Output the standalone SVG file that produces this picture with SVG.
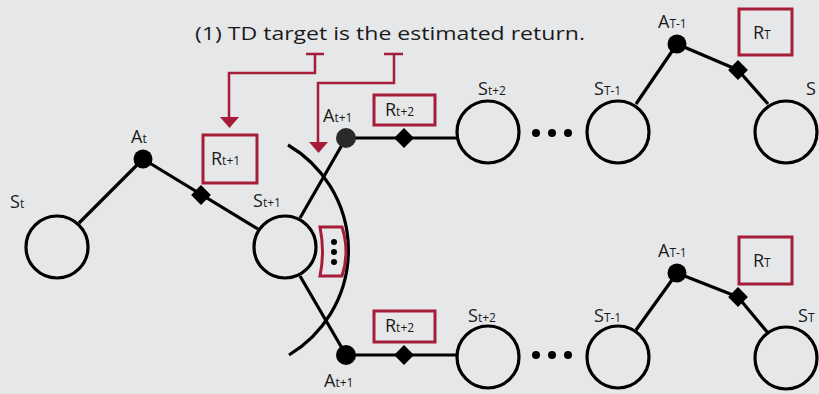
<svg xmlns="http://www.w3.org/2000/svg" width="819" height="394" viewBox="0 0 819 394">
<defs>
<style>
.bg{fill:#e6e7e9}
.st{fill:none;stroke:#000;stroke-width:3.2}
.ln{fill:none;stroke:#000;stroke-width:3.2}
.dot{fill:#000}
.red{fill:none;stroke:#a51d38;stroke-width:3}
.redl{fill:none;stroke:#a51d38;stroke-width:2.5}
.redf{fill:#a51d38}
.lbl{font-family:"Open Sans","Liberation Sans",sans-serif;font-size:18px;fill:#1a1a1a}
.sub{font-size:12px}
.ttl{font-family:"Open Sans","Liberation Sans",sans-serif;font-size:19px;fill:#1a1a1a}
</style>
</defs>
<rect class="bg" x="0" y="0" width="819" height="394"/>

<g id="title">
<text class="ttl" x="195" y="40" textLength="390" lengthAdjust="spacingAndGlyphs">(1) TD target is the estimated return.</text>
</g>

<g id="connectors">
<path class="redl" d="M306 54 H324 M315 54 V73 H229 V118"/>
<polygon class="redf" points="220,117 239,117 229.5,128"/>
<path class="redl" d="M384 54 H403 M394 54 V83 H318 V143"/>
<polygon class="redf" points="309,142 328,142 318.5,153"/>
<line class="ln" x1="79" y1="223" x2="143" y2="159"/>
<line class="ln" x1="143" y1="159" x2="258" y2="229"/>
<line class="ln" x1="300" y1="218" x2="346" y2="138"/>
<line class="ln" x1="300" y1="276" x2="346" y2="355"/>
<path class="ln" d="M288 145 A122 122 0 0 1 289 355"/>
<line class="ln" x1="346" y1="138" x2="457" y2="138"/>
<line class="ln" x1="346" y1="355" x2="458" y2="355"/>
<line class="ln" x1="636" y1="104" x2="677" y2="44"/>
<line class="ln" x1="677" y1="44" x2="738" y2="70"/>
<line class="ln" x1="738" y1="70" x2="768" y2="104"/>
<line class="ln" x1="636" y1="330" x2="677" y2="273"/>
<line class="ln" x1="677" y1="273" x2="738" y2="297"/>
<line class="ln" x1="738" y1="297" x2="768" y2="333"/>
<rect class="dot" x="-7" y="-7" width="14" height="14" transform="translate(201 195) rotate(45)"/>
<rect class="dot" x="-7" y="-7" width="14" height="14" transform="translate(404 138) rotate(45)"/>
<rect class="dot" x="-7" y="-7" width="14" height="14" transform="translate(404 355) rotate(45)"/>
<rect class="dot" x="-7" y="-7" width="14" height="14" transform="translate(738 70) rotate(45)"/>
<rect class="dot" x="-7" y="-7" width="14" height="14" transform="translate(738 297) rotate(45)"/>
</g>

<g id="s_t">
<circle class="st" cx="57" cy="247" r="31"/>
<text class="lbl" x="10" y="208">S<tspan class="sub">t</tspan></text>
</g>
<g id="a_t">
<circle class="dot" cx="143" cy="159" r="9.5"/>
<text class="lbl" x="131" y="143">A<tspan class="sub">t</tspan></text>
</g>
<g id="r_t1">
<rect class="red" x="203" y="135" width="54" height="48"/>
<text class="lbl" x="211" y="165">R<tspan class="sub">t+1</tspan></text>
</g>
<g id="s_t1">
<circle class="st" cx="285" cy="247" r="31"/>
<text class="lbl" x="253" y="207">S<tspan class="sub">t+1</tspan></text>
</g>
<g id="ellipsis_box">
<path class="red" d="M320 227 H342 Q350 252 342 276 H320 Q325 252 320 227 Z"/>
<circle class="dot" cx="334" cy="242" r="3"/>
<circle class="dot" cx="334" cy="252" r="3"/>
<circle class="dot" cx="334" cy="262" r="3"/>
</g>

<g id="a_t1_up">
<circle cx="346" cy="138" r="10" fill="#2a2a2a"/>
<text class="lbl" x="323" y="122">A<tspan class="sub">t+1</tspan></text>
</g>
<g id="r_t2_up">
<rect class="red" x="374" y="95" width="61" height="30"/>
<text class="lbl" x="385" y="116">R<tspan class="sub">t+2</tspan></text>
</g>
<g id="s_t2_up">
<circle class="st" cx="488" cy="132" r="31"/>
<text class="lbl" x="478" y="95">S<tspan class="sub">t+2</tspan></text>
</g>
<g id="dots_up">
<circle class="dot" cx="536" cy="133" r="4"/>
<circle class="dot" cx="552" cy="133" r="4"/>
<circle class="dot" cx="568" cy="133" r="4"/>
</g>
<g id="s_T1_up">
<circle class="st" cx="618" cy="132" r="31"/>
<text class="lbl" x="594" y="95">S<tspan class="sub">T-1</tspan></text>
</g>
<g id="a_T1_up">
<circle class="dot" cx="677" cy="44" r="9.5"/>
<text class="lbl" x="658" y="28">A<tspan class="sub">T-1</tspan></text>
</g>
<g id="r_T_up">
<rect class="red" x="739" y="9" width="53" height="46"/>
<text class="lbl" x="753" y="39">R<tspan class="sub">T</tspan></text>
</g>
<g id="s_T_up">
<circle class="st" cx="786" cy="132" r="31"/>
<text class="lbl" x="806" y="95">S</text>
</g>

<g id="a_t1_low">
<circle class="dot" cx="346" cy="355" r="10"/>
<text class="lbl" x="324" y="387">A<tspan class="sub">t+1</tspan></text>
</g>
<g id="r_t2_low">
<rect class="red" x="374" y="311" width="61" height="31"/>
<text class="lbl" x="385" y="332">R<tspan class="sub">t+2</tspan></text>
</g>
<g id="s_t2_low">
<circle class="st" cx="488" cy="357" r="31"/>
<text class="lbl" x="468" y="322">S<tspan class="sub">t+2</tspan></text>
</g>
<g id="dots_low">
<circle class="dot" cx="536" cy="355" r="4"/>
<circle class="dot" cx="552" cy="355" r="4"/>
<circle class="dot" cx="568" cy="355" r="4"/>
</g>
<g id="s_T1_low">
<circle class="st" cx="618" cy="357" r="31"/>
<text class="lbl" x="594" y="322">S<tspan class="sub">T-1</tspan></text>
</g>
<g id="a_T1_low">
<circle class="dot" cx="677" cy="273" r="9.5"/>
<text class="lbl" x="658" y="257">A<tspan class="sub">T-1</tspan></text>
</g>
<g id="r_T_low">
<rect class="red" x="739" y="237" width="53" height="47"/>
<text class="lbl" x="753" y="267">R<tspan class="sub">T</tspan></text>
</g>
<g id="s_T_low">
<circle class="st" cx="786" cy="358" r="31"/>
<text class="lbl" x="798" y="322">S<tspan class="sub">T</tspan></text>
</g>
</svg>
